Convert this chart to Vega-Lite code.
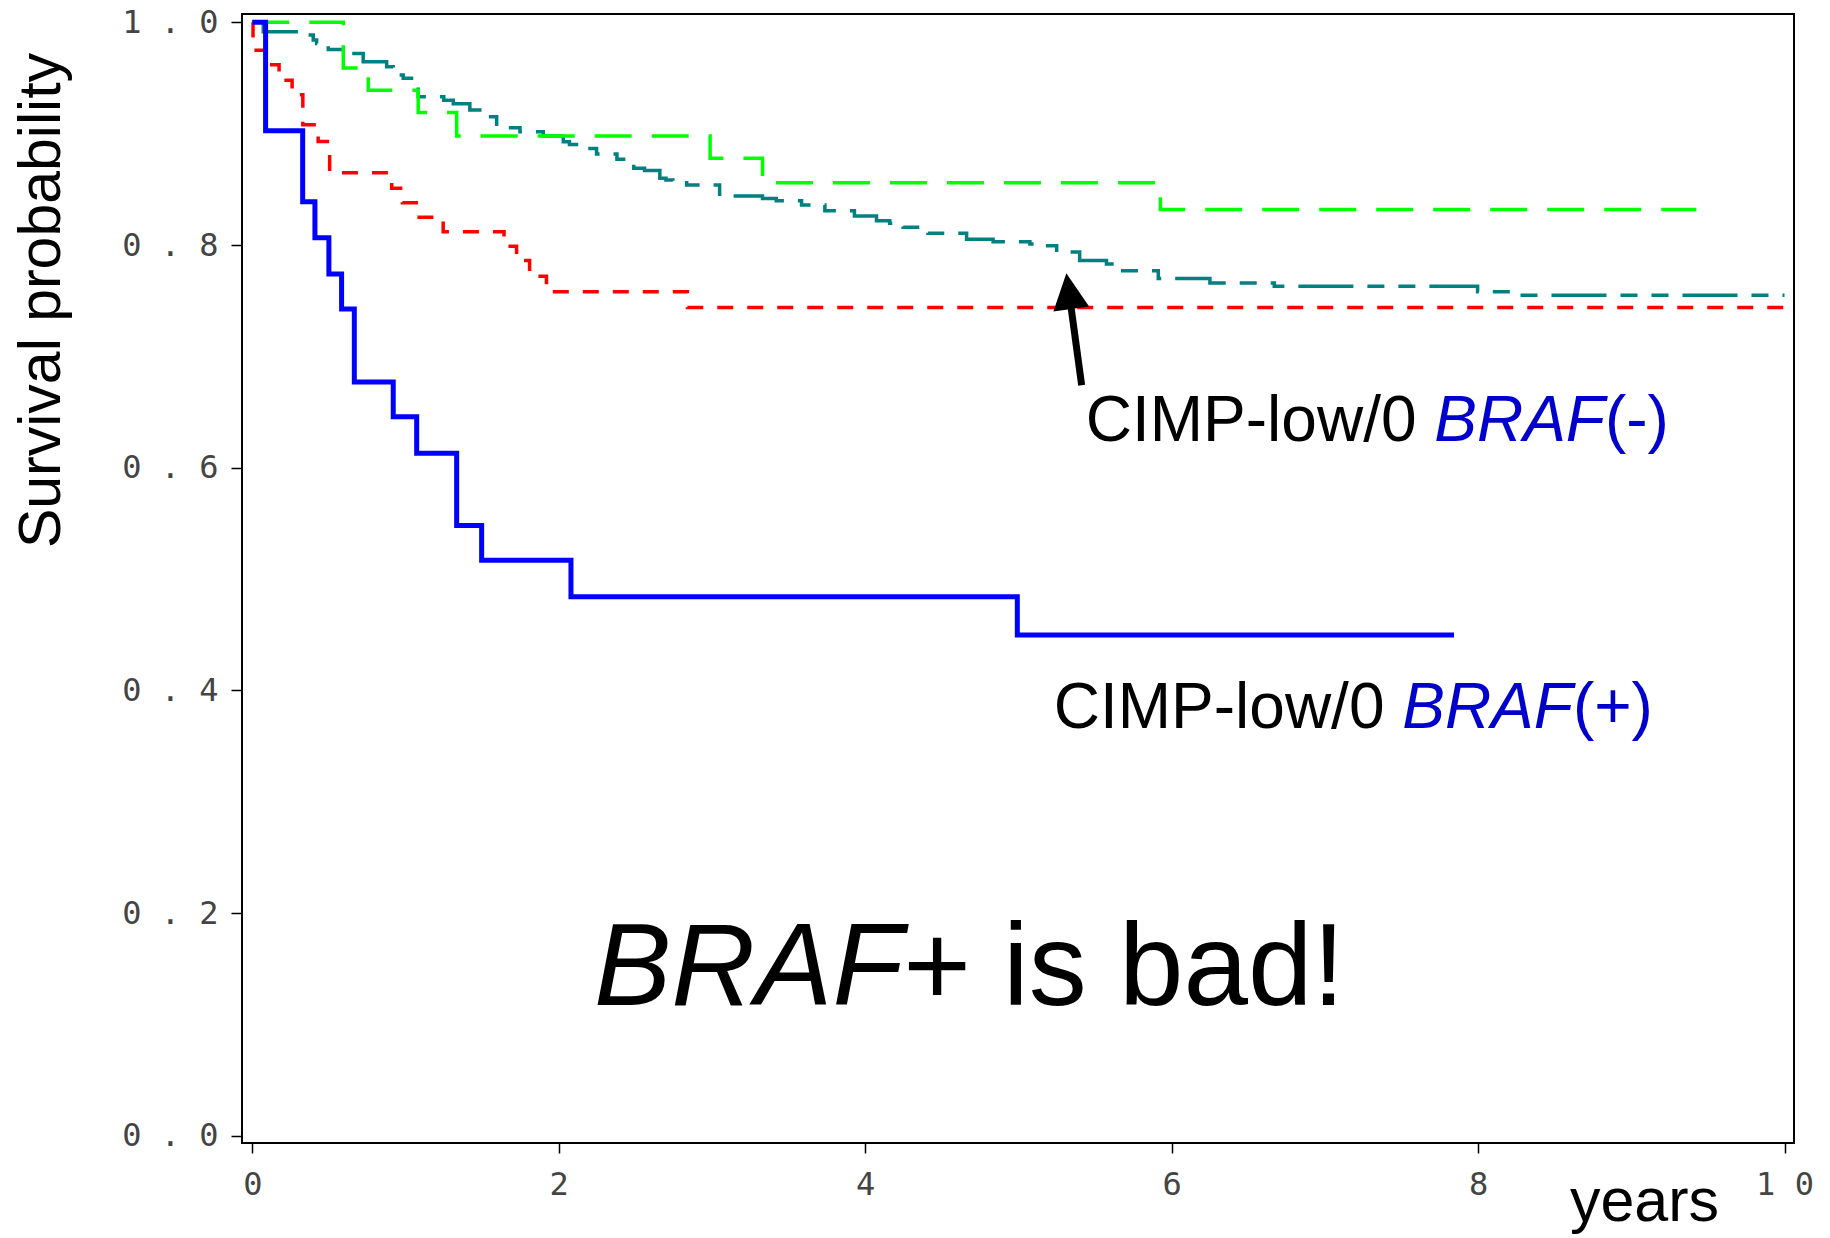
{
  "$schema": "https://vega.github.io/schema/vega-lite/v6.json",
  "width": 1552,
  "height": 1129,
  "autosize": {"type": "none"},
  "padding": {"left": 242, "top": 14, "right": 36, "bottom": 95},
  "background": "white",
  "config": {
    "view": {"stroke": "#000000", "strokeWidth": 2},
    "axis": {"grid": false, "domain": false}
  },
  "datasets": {
    "teal": [
      {"years": 0, "surv": 1.0}, {"years": 0.072, "surv": 0.9916}, {"years": 0.333, "surv": 0.9886},
      {"years": 0.398, "surv": 0.9841}, {"years": 0.42, "surv": 0.9811}, {"years": 0.496, "surv": 0.9757},
      {"years": 0.594, "surv": 0.9721}, {"years": 0.724, "surv": 0.9646}, {"years": 0.877, "surv": 0.9601},
      {"years": 0.92, "surv": 0.9527}, {"years": 0.985, "surv": 0.9497}, {"years": 1.083, "surv": 0.9332},
      {"years": 1.25, "surv": 0.9300}, {"years": 1.312, "surv": 0.9270}, {"years": 1.42, "surv": 0.9212},
      {"years": 1.507, "surv": 0.9152}, {"years": 1.595, "surv": 0.9053}, {"years": 1.747, "surv": 0.9018},
      {"years": 1.899, "surv": 0.8979}, {"years": 2.03, "surv": 0.8928}, {"years": 2.07, "surv": 0.8904},
      {"years": 2.16, "surv": 0.8868}, {"years": 2.247, "surv": 0.8817}, {"years": 2.38, "surv": 0.877},
      {"years": 2.49, "surv": 0.869}, {"years": 2.56, "surv": 0.8669}, {"years": 2.66, "surv": 0.86},
      {"years": 2.7, "surv": 0.8584}, {"years": 2.745, "surv": 0.856}, {"years": 2.835, "surv": 0.8539},
      {"years": 3.05, "surv": 0.844}, {"years": 3.33, "surv": 0.8419}, {"years": 3.42, "surv": 0.8398},
      {"years": 3.585, "surv": 0.8359}, {"years": 3.737, "surv": 0.8308}, {"years": 3.93, "surv": 0.826},
      {"years": 4.074, "surv": 0.8218}, {"years": 4.16, "surv": 0.8195}, {"years": 4.248, "surv": 0.8159},
      {"years": 4.41, "surv": 0.8105}, {"years": 4.662, "surv": 0.8051}, {"years": 4.835, "surv": 0.803},
      {"years": 5.075, "surv": 0.8009}, {"years": 5.14, "surv": 0.7994}, {"years": 5.25, "surv": 0.7937},
      {"years": 5.4, "surv": 0.786}, {"years": 5.575, "surv": 0.783}, {"years": 5.655, "surv": 0.777},
      {"years": 5.913, "surv": 0.77}, {"years": 6.25, "surv": 0.766}, {"years": 6.67, "surv": 0.763},
      {"years": 7.997, "surv": 0.758}, {"years": 8.24, "surv": 0.755}, {"years": 10.0, "surv": 0.755}
    ],
    "red": [
      {"years": 0, "surv": 1.0}, {"years": 0.005, "surv": 0.975}, {"years": 0.09, "surv": 0.962},
      {"years": 0.175, "surv": 0.948}, {"years": 0.26, "surv": 0.935}, {"years": 0.33, "surv": 0.908},
      {"years": 0.43, "surv": 0.893}, {"years": 0.505, "surv": 0.865}, {"years": 0.91, "surv": 0.851},
      {"years": 0.98, "surv": 0.838}, {"years": 1.07, "surv": 0.825}, {"years": 1.246, "surv": 0.812},
      {"years": 1.643, "surv": 0.799}, {"years": 1.725, "surv": 0.786}, {"years": 1.81, "surv": 0.772},
      {"years": 1.92, "surv": 0.758}, {"years": 2.84, "surv": 0.744}, {"years": 10.0, "surv": 0.744}
    ],
    "green": [
      {"years": 0, "surv": 1.0}, {"years": 0.594, "surv": 0.959}, {"years": 0.757, "surv": 0.939},
      {"years": 1.083, "surv": 0.919}, {"years": 1.334, "surv": 0.898}, {"years": 2.988, "surv": 0.878},
      {"years": 3.33, "surv": 0.856}, {"years": 5.927, "surv": 0.832}, {"years": 9.425, "surv": 0.832}
    ],
    "blue": [
      {"years": 0, "surv": 1.0}, {"years": 0.087, "surv": 0.9026}, {"years": 0.329, "surv": 0.8389},
      {"years": 0.409, "surv": 0.8066}, {"years": 0.5, "surv": 0.774}, {"years": 0.583, "surv": 0.7425},
      {"years": 0.666, "surv": 0.677}, {"years": 0.92, "surv": 0.6458}, {"years": 1.073, "surv": 0.613},
      {"years": 1.334, "surv": 0.548}, {"years": 1.497, "surv": 0.517}, {"years": 2.08, "surv": 0.4841},
      {"years": 4.993, "surv": 0.4497}, {"years": 7.843, "surv": 0.4497}
    ],
    "arrow": [
      {"years": 5.413, "surv": 0.674, "years2": 5.333, "surv2": 0.755}
    ],
    "arrowhead": [
      {"years": 5.329, "surv": 0.7586}
    ],
    "labelPlain": [
      {"years": 5.44, "surv": 0.6243, "text": "CIMP-low/0"},
      {"years": 5.231, "surv": 0.366, "text": "CIMP-low/0"}
    ],
    "labelGene": [
      {"years": 7.714, "surv": 0.6243, "text": "BRAF"},
      {"years": 7.505, "surv": 0.366, "text": "BRAF"}
    ],
    "labelSign": [
      {"years": 8.828, "surv": 0.6243, "text": "(-)"},
      {"years": 8.619, "surv": 0.366, "text": "(+)"}
    ],
    "bigGene": [
      {"years": 2.23, "surv": 0.1175, "text": "BRAF"}
    ],
    "bigPlain": [
      {"years": 4.249, "surv": 0.1175, "text": "+"},
      {"years": 4.9, "surv": 0.1175, "text": "is bad!"}
    ]
  },
  "encoding": {
    "x": {
      "field": "years",
      "type": "quantitative",
      "scale": {"domain": [-0.067, 10.062], "nice": false, "zero": false},
      "axis": {
        "title": "years",
        "values": [0, 2, 4, 6, 8, 10],
        "labelExpr": "datum.value == 10 ? '1 0' : datum.label",
        "labelFont": "DejaVu Sans Mono",
        "labelFontSize": 32,
        "labelColor": "#444444",
        "labelPadding": 16,
        "tickSize": 10,
        "tickWidth": 1.5,
        "tickColor": "#000000",
        "titleFont": "Liberation Sans",
        "titleFontSize": 61,
        "titleFontWeight": "normal",
        "titleColor": "#000000",
        "titleX": 1402,
        "titleY": 77,
        "titleAlign": "center",
        "titleBaseline": "alphabetic"
      }
    },
    "y": {
      "field": "surv",
      "type": "quantitative",
      "scale": {"domain": [-0.0065, 1.0075], "nice": false, "zero": false},
      "axis": {
        "title": "Survival probability",
        "values": [0, 0.2, 0.4, 0.6, 0.8, 1.0],
        "labelExpr": "replace(format(datum.value, '.1f'), '.', ' . ')",
        "labelFont": "DejaVu Sans Mono",
        "labelFontSize": 32,
        "labelColor": "#444444",
        "labelPadding": 13,
        "tickSize": 11,
        "tickWidth": 1.5,
        "tickColor": "#000000",
        "titleFont": "Liberation Sans",
        "titleFontSize": 59,
        "titleFontWeight": "normal",
        "titleColor": "#000000",
        "titleAngle": 270,
        "titleX": -183,
        "titleY": 286,
        "titleAlign": "center",
        "titleBaseline": "alphabetic"
      }
    }
  },
  "layer": [
    {
      "data": {"name": "teal"},
      "mark": {"type": "line", "interpolate": "step-after", "color": "#008080", "strokeWidth": 3.5, "strokeDash": [55, 14, 17, 14, 17, 14]}
    },
    {
      "data": {"name": "red"},
      "mark": {"type": "line", "interpolate": "step-after", "color": "#ff0000", "strokeWidth": 3.5, "strokeDash": [16, 14]}
    },
    {
      "data": {"name": "green"},
      "mark": {"type": "line", "interpolate": "step-after", "color": "#00ff00", "strokeWidth": 3.5, "strokeDash": [37, 20]}
    },
    {
      "data": {"name": "blue"},
      "mark": {"type": "line", "interpolate": "step-after", "color": "#0000ff", "strokeWidth": 5}
    },
    {
      "data": {"name": "arrow"},
      "mark": {"type": "rule", "color": "#000000", "strokeWidth": 7},
      "encoding": {
        "x2": {"field": "years2"},
        "y2": {"field": "surv2"}
      }
    },
    {
      "data": {"name": "arrowhead"},
      "mark": {"type": "point", "shape": "M0,-1L1,1L-1,1Z", "size": 1296, "angle": -7.8, "filled": true, "color": "#000000", "opacity": 1, "strokeWidth": 0}
    },
    {
      "data": {"name": "labelPlain"},
      "mark": {"type": "text", "align": "left", "baseline": "alphabetic", "font": "Liberation Sans", "fontSize": 64, "color": "#000000"},
      "encoding": {"text": {"field": "text"}}
    },
    {
      "data": {"name": "labelGene"},
      "mark": {"type": "text", "align": "left", "baseline": "alphabetic", "font": "Liberation Sans", "fontStyle": "italic", "fontSize": 64, "color": "#0000cc"},
      "encoding": {"text": {"field": "text"}}
    },
    {
      "data": {"name": "labelSign"},
      "mark": {"type": "text", "align": "left", "baseline": "alphabetic", "font": "Liberation Sans", "fontSize": 64, "color": "#0000cc"},
      "encoding": {"text": {"field": "text"}}
    },
    {
      "data": {"name": "bigGene"},
      "mark": {"type": "text", "align": "left", "baseline": "alphabetic", "font": "Liberation Sans", "fontStyle": "italic", "fontSize": 116, "color": "#000000"},
      "encoding": {"text": {"field": "text"}}
    },
    {
      "data": {"name": "bigPlain"},
      "mark": {"type": "text", "align": "left", "baseline": "alphabetic", "font": "Liberation Sans", "fontSize": 116, "color": "#000000"},
      "encoding": {"text": {"field": "text"}}
    }
  ]
}
